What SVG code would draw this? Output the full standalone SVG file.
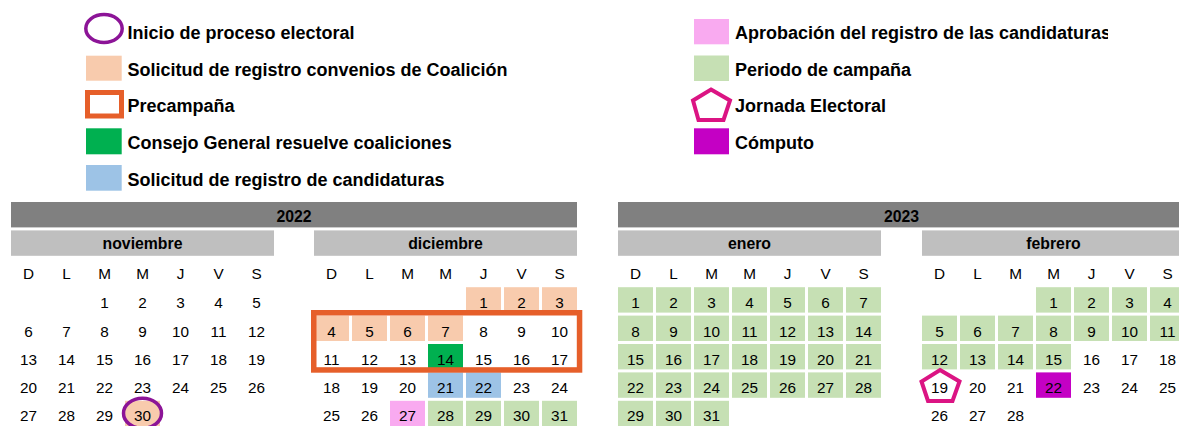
<svg xmlns="http://www.w3.org/2000/svg" width="1179" height="426" viewBox="0 0 1179 426">
<style>
text{font-family:"Liberation Sans",Arial,sans-serif;fill:#000}
.lg{font-size:18px;font-weight:bold}
.hd{font-size:15.8px;font-weight:bold;text-anchor:middle}
.d{font-size:15.3px;text-anchor:middle}
.yr{fill:#808080}
.mo{fill:#BFBFBF}
.pe{fill:#F8CBAD}
.gr{fill:#00B050}
.bl{fill:#9DC3E6}
.pk{fill:#F9AAF0}
.lgc{fill:#C6E0B4}
.cp{fill:#C400C4}
</style>
<defs>
<clipPath id="clipA"><rect x="0" y="0" width="1108" height="426"/></clipPath>
</defs>
<rect width="1179" height="426" fill="#fff"/>

<g id="legend">
  <g id="lg-inicio">
    <ellipse cx="104" cy="28.5" rx="18.2" ry="14.1" fill="none" stroke="#8C1497" stroke-width="3.5"/>
    <text class="lg" x="127.5" y="39.3">Inicio de proceso electoral</text>
  </g>
  <g id="lg-convenios">
    <rect class="pe" x="86" y="55.7" width="35.7" height="25"/>
    <text class="lg" x="127.5" y="76">Solicitud de registro convenios de Coalición</text>
  </g>
  <g id="lg-precampana">
    <rect x="87.5" y="92.5" width="34" height="23.5" fill="#fff" stroke="#E65F2A" stroke-width="5"/>
    <text class="lg" x="127.5" y="112">Precampaña</text>
  </g>
  <g id="lg-consejo">
    <rect class="gr" x="86" y="128.3" width="35.7" height="26"/>
    <text class="lg" x="127.5" y="148.5">Consejo General resuelve coaliciones</text>
  </g>
  <g id="lg-solicitud">
    <rect class="bl" x="86" y="165" width="35.7" height="25.7"/>
    <text class="lg" x="127.5" y="185.7">Solicitud de registro de candidaturas</text>
  </g>
  <g id="lg-aprobacion">
    <rect class="pk" x="694" y="19" width="35" height="25.3"/>
    <text class="lg" x="735" y="39.3" clip-path="url(#clipA)">Aprobación del registro de las candidaturas</text>
  </g>
  <g id="lg-campana">
    <rect class="lgc" x="694" y="55.5" width="35" height="25.5"/>
    <text class="lg" x="735" y="76">Periodo de campaña</text>
  </g>
  <g id="lg-jornada">
    <polygon points="711,89.5 730,100.5 723.5,120 698.5,120 693,100.5" fill="none" stroke="#DB1483" stroke-width="4" stroke-linejoin="miter"/>
    <text class="lg" x="735" y="112">Jornada Electoral</text>
  </g>
  <g id="lg-computo">
    <rect class="cp" x="694" y="128.3" width="35" height="26"/>
    <text class="lg" x="735" y="148.5">Cómputo</text>
  </g>
</g>

<g id="headers">
  <rect class="yr" x="11" y="202" width="566" height="25.4"/>
  <text class="hd" x="294" y="221.5">2022</text>
  <rect class="yr" x="618" y="202" width="567" height="25.4"/>
  <text class="hd" x="901.5" y="221.5">2023</text>
  <rect class="mo" x="11" y="230.4" width="263" height="25.4"/>
  <text class="hd" x="142.5" y="249.3">noviembre</text>
  <rect class="mo" x="314" y="230.4" width="263" height="25.4"/>
  <text class="hd" x="445.5" y="249.3">diciembre</text>
  <rect class="mo" x="618" y="230.4" width="263" height="25.4"/>
  <text class="hd" x="749.5" y="249.3">enero</text>
  <rect class="mo" x="922" y="230.4" width="263" height="25.4"/>
  <text class="hd" x="1053.5" y="249.3">febrero</text>
</g>

<g id="noviembre">
  <rect class="pe" x="125" y="400.8" width="35" height="25.4"/>
  <g class="d-row">
    <text class="d" x="28.5" y="279.3">D</text><text class="d" x="66.5" y="279.3">L</text><text class="d" x="104.5" y="279.3">M</text><text class="d" x="142.5" y="279.3">M</text><text class="d" x="180.5" y="279.3">J</text><text class="d" x="218.5" y="279.3">V</text><text class="d" x="256.5" y="279.3">S</text>
  </g>
  <text class="d" x="104.5" y="308.2">1</text><text class="d" x="142.5" y="308.2">2</text><text class="d" x="180.5" y="308.2">3</text><text class="d" x="218.5" y="308.2">4</text><text class="d" x="256.5" y="308.2">5</text>
  <text class="d" x="28.5" y="336.5">6</text><text class="d" x="66.5" y="336.5">7</text><text class="d" x="104.5" y="336.5">8</text><text class="d" x="142.5" y="336.5">9</text><text class="d" x="180.5" y="336.5">10</text><text class="d" x="218.5" y="336.5">11</text><text class="d" x="256.5" y="336.5">12</text>
  <text class="d" x="28.5" y="364.9">13</text><text class="d" x="66.5" y="364.9">14</text><text class="d" x="104.5" y="364.9">15</text><text class="d" x="142.5" y="364.9">16</text><text class="d" x="180.5" y="364.9">17</text><text class="d" x="218.5" y="364.9">18</text><text class="d" x="256.5" y="364.9">19</text>
  <text class="d" x="28.5" y="393.2">20</text><text class="d" x="66.5" y="393.2">21</text><text class="d" x="104.5" y="393.2">22</text><text class="d" x="142.5" y="393.2">23</text><text class="d" x="180.5" y="393.2">24</text><text class="d" x="218.5" y="393.2">25</text><text class="d" x="256.5" y="393.2">26</text>
  <text class="d" x="28.5" y="421">27</text><text class="d" x="66.5" y="421">28</text><text class="d" x="104.5" y="421">29</text><text class="d" x="142.5" y="421">30</text>
  <ellipse cx="142.5" cy="413.3" rx="19" ry="15" fill="none" stroke="#8C1497" stroke-width="3.5"/>
</g>

<g id="diciembre">
  <rect class="pe" x="466" y="287.2" width="35" height="25.4"/>
  <rect class="pe" x="504" y="287.2" width="35" height="25.4"/>
  <rect class="pe" x="542" y="287.2" width="35" height="25.4"/>
  <rect class="pe" x="314" y="315.6" width="35" height="25.4"/>
  <rect class="pe" x="352" y="315.6" width="35" height="25.4"/>
  <rect class="pe" x="390" y="315.6" width="35" height="25.4"/>
  <rect class="pe" x="428" y="315.6" width="35" height="25.4"/>
  <rect class="gr" x="428" y="344" width="35" height="25.4"/>
  <rect class="bl" x="428" y="372.4" width="35" height="25.4"/>
  <rect class="bl" x="466" y="372.4" width="35" height="25.4"/>
  <rect class="pk" x="390" y="400.8" width="35" height="25.4"/>
  <rect class="lgc" x="428" y="400.8" width="35" height="25.4"/>
  <rect class="lgc" x="466" y="400.8" width="35" height="25.4"/>
  <rect class="lgc" x="504" y="400.8" width="35" height="25.4"/>
  <rect class="lgc" x="542" y="400.8" width="35" height="25.4"/>
  <text class="d" x="331.5" y="279.3">D</text><text class="d" x="369.5" y="279.3">L</text><text class="d" x="407.5" y="279.3">M</text><text class="d" x="445.5" y="279.3">M</text><text class="d" x="483.5" y="279.3">J</text><text class="d" x="521.5" y="279.3">V</text><text class="d" x="559.5" y="279.3">S</text>
  <text class="d" x="483.5" y="308.2">1</text><text class="d" x="521.5" y="308.2">2</text><text class="d" x="559.5" y="308.2">3</text>
  <text class="d" x="331.5" y="336.5">4</text><text class="d" x="369.5" y="336.5">5</text><text class="d" x="407.5" y="336.5">6</text><text class="d" x="445.5" y="336.5">7</text><text class="d" x="483.5" y="336.5">8</text><text class="d" x="521.5" y="336.5">9</text><text class="d" x="559.5" y="336.5">10</text>
  <text class="d" x="331.5" y="364.9">11</text><text class="d" x="369.5" y="364.9">12</text><text class="d" x="407.5" y="364.9">13</text><text class="d" x="445.5" y="364.9">14</text><text class="d" x="483.5" y="364.9">15</text><text class="d" x="521.5" y="364.9">16</text><text class="d" x="559.5" y="364.9">17</text>
  <text class="d" x="331.5" y="393.2">18</text><text class="d" x="369.5" y="393.2">19</text><text class="d" x="407.5" y="393.2">20</text><text class="d" x="445.5" y="393.2">21</text><text class="d" x="483.5" y="393.2">22</text><text class="d" x="521.5" y="393.2">23</text><text class="d" x="559.5" y="393.2">24</text>
  <text class="d" x="331.5" y="421">25</text><text class="d" x="369.5" y="421">26</text><text class="d" x="407.5" y="421">27</text><text class="d" x="445.5" y="421">28</text><text class="d" x="483.5" y="421">29</text><text class="d" x="521.5" y="421">30</text><text class="d" x="559.5" y="421">31</text>
  <rect x="313.75" y="312.75" width="265.8" height="57.2" fill="none" stroke="#E65F2A" stroke-width="5.5"/>
</g>

<g id="enero">
  <g class="lgc">
    <rect x="618" y="287.2" width="35" height="25.4"/><rect x="656" y="287.2" width="35" height="25.4"/><rect x="694" y="287.2" width="35" height="25.4"/><rect x="732" y="287.2" width="35" height="25.4"/><rect x="770" y="287.2" width="35" height="25.4"/><rect x="808" y="287.2" width="35" height="25.4"/><rect x="846" y="287.2" width="35" height="25.4"/>
    <rect x="618" y="315.6" width="35" height="25.4"/><rect x="656" y="315.6" width="35" height="25.4"/><rect x="694" y="315.6" width="35" height="25.4"/><rect x="732" y="315.6" width="35" height="25.4"/><rect x="770" y="315.6" width="35" height="25.4"/><rect x="808" y="315.6" width="35" height="25.4"/><rect x="846" y="315.6" width="35" height="25.4"/>
    <rect x="618" y="344" width="35" height="25.4"/><rect x="656" y="344" width="35" height="25.4"/><rect x="694" y="344" width="35" height="25.4"/><rect x="732" y="344" width="35" height="25.4"/><rect x="770" y="344" width="35" height="25.4"/><rect x="808" y="344" width="35" height="25.4"/><rect x="846" y="344" width="35" height="25.4"/>
    <rect x="618" y="372.4" width="35" height="25.4"/><rect x="656" y="372.4" width="35" height="25.4"/><rect x="694" y="372.4" width="35" height="25.4"/><rect x="732" y="372.4" width="35" height="25.4"/><rect x="770" y="372.4" width="35" height="25.4"/><rect x="808" y="372.4" width="35" height="25.4"/><rect x="846" y="372.4" width="35" height="25.4"/>
    <rect x="618" y="400.8" width="35" height="25.4"/><rect x="656" y="400.8" width="35" height="25.4"/><rect x="694" y="400.8" width="35" height="25.4"/>
  </g>
  <text class="d" x="635.5" y="279.3">D</text><text class="d" x="673.5" y="279.3">L</text><text class="d" x="711.5" y="279.3">M</text><text class="d" x="749.5" y="279.3">M</text><text class="d" x="787.5" y="279.3">J</text><text class="d" x="825.5" y="279.3">V</text><text class="d" x="863.5" y="279.3">S</text>
  <text class="d" x="635.5" y="308.2">1</text><text class="d" x="673.5" y="308.2">2</text><text class="d" x="711.5" y="308.2">3</text><text class="d" x="749.5" y="308.2">4</text><text class="d" x="787.5" y="308.2">5</text><text class="d" x="825.5" y="308.2">6</text><text class="d" x="863.5" y="308.2">7</text>
  <text class="d" x="635.5" y="336.5">8</text><text class="d" x="673.5" y="336.5">9</text><text class="d" x="711.5" y="336.5">10</text><text class="d" x="749.5" y="336.5">11</text><text class="d" x="787.5" y="336.5">12</text><text class="d" x="825.5" y="336.5">13</text><text class="d" x="863.5" y="336.5">14</text>
  <text class="d" x="635.5" y="364.9">15</text><text class="d" x="673.5" y="364.9">16</text><text class="d" x="711.5" y="364.9">17</text><text class="d" x="749.5" y="364.9">18</text><text class="d" x="787.5" y="364.9">19</text><text class="d" x="825.5" y="364.9">20</text><text class="d" x="863.5" y="364.9">21</text>
  <text class="d" x="635.5" y="393.2">22</text><text class="d" x="673.5" y="393.2">23</text><text class="d" x="711.5" y="393.2">24</text><text class="d" x="749.5" y="393.2">25</text><text class="d" x="787.5" y="393.2">26</text><text class="d" x="825.5" y="393.2">27</text><text class="d" x="863.5" y="393.2">28</text>
  <text class="d" x="635.5" y="421">29</text><text class="d" x="673.5" y="421">30</text><text class="d" x="711.5" y="421">31</text>
</g>

<g id="febrero">
  <g class="lgc">
    <rect x="1036" y="287.2" width="35" height="25.4"/><rect x="1074" y="287.2" width="35" height="25.4"/><rect x="1112" y="287.2" width="35" height="25.4"/><rect x="1150" y="287.2" width="35" height="25.4"/>
    <rect x="922" y="315.6" width="35" height="25.4"/><rect x="960" y="315.6" width="35" height="25.4"/><rect x="998" y="315.6" width="35" height="25.4"/><rect x="1036" y="315.6" width="35" height="25.4"/><rect x="1074" y="315.6" width="35" height="25.4"/><rect x="1112" y="315.6" width="35" height="25.4"/><rect x="1150" y="315.6" width="35" height="25.4"/>
    <rect x="922" y="344" width="35" height="25.4"/><rect x="960" y="344" width="35" height="25.4"/><rect x="998" y="344" width="35" height="25.4"/><rect x="1036" y="344" width="35" height="25.4"/>
  </g>
  <rect class="cp" x="1036" y="372.4" width="35" height="25.4"/>
  <text class="d" x="939.5" y="279.3">D</text><text class="d" x="977.5" y="279.3">L</text><text class="d" x="1015.5" y="279.3">M</text><text class="d" x="1053.5" y="279.3">M</text><text class="d" x="1091.5" y="279.3">J</text><text class="d" x="1129.5" y="279.3">V</text><text class="d" x="1167.5" y="279.3">S</text>
  <text class="d" x="1053.5" y="308.2">1</text><text class="d" x="1091.5" y="308.2">2</text><text class="d" x="1129.5" y="308.2">3</text><text class="d" x="1167.5" y="308.2">4</text>
  <text class="d" x="939.5" y="336.5">5</text><text class="d" x="977.5" y="336.5">6</text><text class="d" x="1015.5" y="336.5">7</text><text class="d" x="1053.5" y="336.5">8</text><text class="d" x="1091.5" y="336.5">9</text><text class="d" x="1129.5" y="336.5">10</text><text class="d" x="1167.5" y="336.5">11</text>
  <text class="d" x="939.5" y="364.9">12</text><text class="d" x="977.5" y="364.9">13</text><text class="d" x="1015.5" y="364.9">14</text><text class="d" x="1053.5" y="364.9">15</text><text class="d" x="1091.5" y="364.9">16</text><text class="d" x="1129.5" y="364.9">17</text><text class="d" x="1167.5" y="364.9">18</text>
  <text class="d" x="939.5" y="393.2">19</text><text class="d" x="977.5" y="393.2">20</text><text class="d" x="1015.5" y="393.2">21</text><text class="d" x="1053.5" y="393.2">22</text><text class="d" x="1091.5" y="393.2">23</text><text class="d" x="1129.5" y="393.2">24</text><text class="d" x="1167.5" y="393.2">25</text>
  <text class="d" x="939.5" y="421">26</text><text class="d" x="977.5" y="421">27</text><text class="d" x="1015.5" y="421">28</text>
  <polygon points="940,370 959.5,381.5 952.5,401 928,401 921.5,381.5" fill="none" stroke="#DB1483" stroke-width="4"/>
</g>
</svg>
